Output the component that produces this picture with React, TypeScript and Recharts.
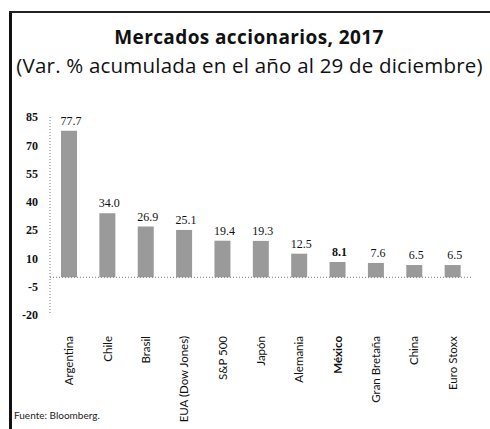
import React from "react";
import { BarChart, Bar, XAxis, YAxis, ReferenceLine, LabelList } from "recharts";

const categories = ["Argentina", "Chile", "Brasil", "EUA (Dow Jones)", "S&P 500", "Japón", "Alemania", "México", "Gran Bretaña", "China", "Euro Stoxx"];
const values = [77.7, 34.0, 26.9, 25.1, 19.4, 19.3, 12.5, 8.1, 7.6, 6.5, 6.5];
const yTicks = [85, 70, 55, 40, 25, 10, -5, -20];
const highlight = "México";

const data = categories.map((c, i) => ({ name: c, value: values[i] }));

const XTick = (props: any) => {
  const { x, y, payload } = props;
  const bold = payload.value === highlight;
  return (
    <text
      x={x}
      y={y + 13}
      transform={`rotate(-90, ${x}, ${y + 13})`}
      textAnchor="end"
      dy="0.35em"
      fontFamily="Lato, 'Open Sans', sans-serif"
      fontSize={11.5}
      fontWeight={bold ? 700 : 400}
      fill="#111"
    >
      {payload.value}
    </text>
  );
};

const ValueLabel = (props: any) => {
  const { x, y, width, value, index } = props;
  const bold = categories[index] === highlight;
  return (
    <text
      x={x + width / 2 + 2}
      y={y - 6}
      textAnchor="middle"
      fontFamily="'Liberation Serif', serif"
      fontSize={12}
      fontWeight={bold ? 700 : 400}
      fill="#111"
    >
      {Number(value).toFixed(1)}
    </text>
  );
};

export default function App() {
  return (
    <div style={{ position: "absolute", left: 0, top: 0, width: 490, height: 429, background: "#fff" }}>
      <div style={{ position: "absolute", left: 9, top: 11, width: 3, height: 418, background: "#111" }} />
      <div style={{ position: "absolute", left: 9, top: 11, width: 481, height: 2, background: "#222" }} />
      <div
        style={{
          position: "absolute",
          left: 0,
          top: 25,
          width: 498,
          textAlign: "center",
          fontFamily: "'Open Sans', sans-serif",
          fontWeight: 700,
          fontSize: 19,
          color: "#111",
          lineHeight: 1.362,
          letterSpacing: "0.4px",
        }}
      >
        Mercados accionarios, 2017
      </div>
      <div
        style={{
          position: "absolute",
          left: 0,
          top: 51.5,
          width: 499,
          textAlign: "center",
          fontFamily: "'Open Sans', sans-serif",
          fontSize: 20.5,
          color: "#111",
          lineHeight: 1.362,
          whiteSpace: "nowrap",
          letterSpacing: "0.2px",
        }}
      >
        (Var. % acumulada en el año al 29 de diciembre)
      </div>
      <div
        style={{
          position: "absolute",
          left: 14,
          top: 409,
          fontFamily: "Lato, 'Open Sans', sans-serif",
          fontSize: 10,
          color: "#222",
        }}
      >
        Fuente: Bloomberg.
      </div>
      <div style={{ position: "absolute", left: 0, top: 0 }}>
        <BarChart width={490} height={429} data={data} margin={{ top: 117, right: 18, bottom: 0, left: 10 }}>
          <XAxis
            dataKey="name"
            axisLine={false}
            tickLine={false}
            interval={0}
            height={114}
            tick={<XTick />}
          />
          <YAxis
            domain={[-20, 85]}
            ticks={yTicks}
            width={40}
            tickSize={0}
            tickMargin={12}
            axisLine={{ stroke: "#777", strokeDasharray: "1 2" }}
            tickLine={false}
            tick={{ fontFamily: "'Liberation Serif', serif", fontSize: 12, fontWeight: 700, fill: "#111" }}
          />
          <ReferenceLine y={0} stroke="#777" strokeDasharray="1 2" />
          <Bar dataKey="value" fill="#9a9a9a" barSize={16} isAnimationActive={false}>
            <LabelList dataKey="value" content={<ValueLabel />} />
          </Bar>
        </BarChart>
      </div>
    </div>
  );
}
